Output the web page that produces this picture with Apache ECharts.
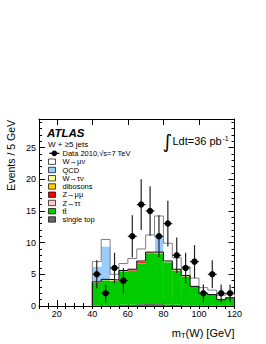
<!DOCTYPE html>
<html><head><meta charset="utf-8">
<script src="https://cdn.jsdelivr.net/npm/echarts@6/dist/echarts.min.js"></script>
<style>html,body{margin:0;padding:0;background:#fff}#c{width:266px;height:344px}</style>
</head><body><div id="c"></div>
<script>
// ---- data ----
const binLow = [40,45,50,55,60,65,70,75,80,85,90,95,100,105,110,115];
const binWidth = 5;
const dataCounts = [5,2,6,4,11,16,15,11,13,8,6,7,2,5,2,2];
const dataErrors = [2.2,1.4,2.4,2.0,3.3,4.0,3.9,3.3,3.6,2.8,2.4,2.6,1.4,2.2,1.4,1.4];
const singleTop = [0.1,0.1,0.1,0.2,0.2,0.3,0.3,0.3,0.2,0.2,0.1,0.1,0.1,0.05,0.05,0.05];
const ttbar    = [3.55,3.95,3.85,5.2,5.35,6.45,7.95,8.0,6.7,5.4,4.55,2.9,1.85,1.7,0.9,1.2];
const ztautau  = [0.05,0.05,0.05,0.05,0.05,0.05,0.05,0.05,0.05,0.05,0.05,0.05,0,0,0,0];
const zmumu    = [0,0,0,0.05,0.1,0.15,0.1,0.05,0,0,0,0,0,0,0,0];
const dibosons = [0.05,0.05,0.05,0.05,0.05,0.05,0.05,0.05,0.05,0.05,0.05,0,0,0,0,0];
const wtaunu   = [0.05,0.05,0.05,0.05,0.05,0.1,0.05,0.05,0.1,0.1,0.05,0.05,0.05,0.05,0.05,0.05];
const qcd      = [2.4,5.2,0,0,0,0,0,2.4,0,0,0,0,0,0,0,0];
const wmunu    = [0.8,1.1,0.9,1.1,1.7,1.9,2.7,3.3,2.8,1.8,1.4,1.3,0.9,0.7,0.7,0.6];
const xTickLabels = [20,40,60,80,100,120];
const yTickLabels = [0,5,10,15,20,25];

const FONT = '"Liberation Sans", Arial, Helvetica, sans-serif';
const components = [
  {name:'single top', values:singleTop, color:'#666666'},
  {name:'tt\u0304', values:ttbar, color:'#00cc00'},
  {name:'Z→ττ', values:ztautau, color:'#ffcccc'},
  {name:'Z→μμ', values:zmumu, color:'#ff0000'},
  {name:'dibosons', values:dibosons, color:'#ffcc00'},
  {name:'W→τν', values:wtaunu, color:'#ffff99'},
  {name:'QCD', values:qcd, color:'#99ccff'},
  {name:'W→μν', values:wmunu, color:'#ffffff'}
];

let base = binLow.map(() => 0);
let colouredTop = null;
const series = [];
components.forEach((c, ci) => {
  const data = binLow.map((x, i) => [x, x + binWidth, base[i], base[i] + c.values[i]]);
  base = base.map((b, i) => b + c.values[i]);
  if (c.name === 'W→τν') colouredTop = base.slice();
  series.push({
    type:'custom', name:c.name, xAxisIndex:0, yAxisIndex:0, z:2+ci, silent:true,
    encode:{x:[0,1], y:[2,3]}, data,
    renderItem:(params, api) => {
      if (api.value(3) - api.value(2) <= 0) return null;
      const p0 = api.coord([api.value(0), api.value(3)]);
      const p1 = api.coord([api.value(1), api.value(2)]);
      return {type:'rect', shape:{x:p0[0], y:p0[1], width:p1[0]-p0[0]+0.4, height:p1[1]-p0[1]},
              style:{fill:c.color}};
    }
  });
});
const totals = base;

function stepData(vals){
  const d = [[binLow[0], 0]];
  binLow.forEach((x, i) => d.push([x, vals[i]]));
  d.push([binLow[binLow.length-1] + binWidth, vals[vals.length-1]]);
  d.push([binLow[binLow.length-1] + binWidth, 0]);
  return d;
}
series.push({type:'line', step:'end', data:stepData(totals), symbol:'none', silent:true, z:20,
  lineStyle:{color:'#808080', width:1}, xAxisIndex:0, yAxisIndex:0});
series.push({type:'line', step:'end', data:stepData(colouredTop), symbol:'none', silent:true, z:21,
  lineStyle:{color:'#000', width:1}, xAxisIndex:0, yAxisIndex:0});

series.push({
  type:'custom', name:'Data', xAxisIndex:0, yAxisIndex:0, z:30, silent:true,
  encode:{x:[0,1], y:[2]},
  data: binLow.map((x, i) => [x, x + binWidth, dataCounts[i], dataErrors[i]]),
  renderItem:(params, api) => {
    const x0 = api.value(0), x1 = api.value(1), v = api.value(2), e = api.value(3);
    const xc = (x0 + x1) / 2;
    const t = api.coord([xc, v + e]), b = api.coord([xc, Math.max(0, v - e)]);
    const l = api.coord([x0, v]), r = api.coord([x1, v]), c = api.coord([xc, v]);
    return {type:'group', children:[
      {type:'line', shape:{x1:t[0], y1:t[1], x2:b[0], y2:b[1]}, style:{stroke:'#222', lineWidth:1.2}},
      {type:'line', shape:{x1:l[0], y1:l[1], x2:r[0], y2:r[1]}, style:{stroke:'#222', lineWidth:1.2}},
      {type:'circle', shape:{cx:c[0], cy:c[1], r:3.2}, style:{fill:'#000'}}
    ]};
  }
});

const axisLineStyle = {show:true, onZero:false, lineStyle:{color:'#000', width:1}};
function xAx(pos, major, labels){
  const a = {type:'value', min:10, max:120, position:pos, splitLine:{show:false},
    axisLine: major ? axisLineStyle : {show:false}};
  if (major) {
    a.axisTick = {show:true, inside:true, length:6, customValues:xTickLabels, lineStyle:{color:'#000'}};
    a.axisLabel = labels ? {show:true, customValues:xTickLabels, margin:3, fontSize:9, color:'#000', fontFamily:FONT} : {show:false};
  } else {
    a.interval = 5;
    a.axisTick = {show:true, inside:true, length:3, lineStyle:{color:'#000'}};
    a.axisLabel = {show:false};
  }
  return a;
}
function yAx(pos, major, labels){
  const a = {type:'value', min:0, max:29.5, position:pos, splitLine:{show:false},
    axisLine: major ? axisLineStyle : {show:false}};
  if (major) {
    a.axisTick = {show:true, inside:true, length:6, customValues:yTickLabels, lineStyle:{color:'#000'}};
    a.axisLabel = labels ? {show:true, customValues:yTickLabels, margin:3, fontSize:9, color:'#000', fontFamily:FONT} : {show:false};
  } else {
    a.interval = 1;
    a.axisTick = {show:true, inside:true, length:3, lineStyle:{color:'#000'}};
    a.axisLabel = {show:false};
  }
  return a;
}

const legendRows = ['W→μν','QCD','W→τν','dibosons','Z→μμ','Z→ττ','tt\u0304','single top'];
const legendColors = {};
components.forEach(c => legendColors[c.name] = c.color);
const graphic = [];
const gtext = (x, y, text, size, extra) => Object.assign({type:'text', x, y, silent:true, z:50,
  style:Object.assign({text, fontSize:size, fontFamily:FONT, fill:'#000', align:'left', verticalAlign:'middle'}, extra||{})});
graphic.push(gtext(47, 132.5, 'ATLAS', 11.5, {fontWeight:'bold', fontStyle:'italic'}));
graphic.push(gtext(48, 144.5, 'W + ≥5 jets', 8));
graphic.push({type:'line', silent:true, z:50, shape:{x1:49.3, y1:153.3, x2:59.3, y2:153.3}, style:{stroke:'#000', lineWidth:1.2}});
graphic.push({type:'circle', silent:true, z:51, shape:{cx:54.3, cy:153.3, r:2.8}, style:{fill:'#000'}});
graphic.push(gtext(62.5, 153.5, 'Data 2010,√s=7 TeV', 7.5));
legendRows.forEach((name, i) => {
  const y = 161.7 + i * 8.25;
  graphic.push({type:'rect', silent:true, z:50, shape:{x:48.5, y:y-2.7, width:7, height:5.4},
    style:{fill:legendColors[name], stroke:'#000', lineWidth:0.7}});
  graphic.push(gtext(62.5, y + 0.2, name, 7.5));
});
graphic.push(gtext(162.5, 140.5, '∫', 19, {fontFamily:'"DejaVu Sans", sans-serif'}));
graphic.push(gtext(172.5, 141, 'Ldt=36 pb', 11));
graphic.push(gtext(222.5, 138, '-1', 7));
graphic.push(Object.assign(gtext(10.5, 120, 'Events / 5 GeV', 10.5, {align:'right'}), {rotation:Math.PI/2}));
graphic.push({type:'text', x:234.5, y:333, silent:true, z:50,
  style:{text:'{a|m}{b|T}{a|(W) [GeV]}', align:'right', verticalAlign:'middle', fill:'#000',
    rich:{a:{fontSize:11, fontFamily:FONT, fill:'#000'}, b:{fontSize:7.5, fontFamily:FONT, fill:'#000', padding:[5,0,0,0]}}}});

const chart = echarts.init(document.getElementById('c'), null, {renderer:'svg'});
chart.setOption({
  animation:false,
  backgroundColor:'#fff',
  grid:{left:39, right:31.5, top:119, bottom:38, containLabel:false},
  xAxis:[xAx('bottom', true, true), xAx('bottom', false), xAx('top', true, false), xAx('top', false)],
  yAxis:[yAx('left', true, true), yAx('left', false), yAx('right', true, false), yAx('right', false)],
  series,
  graphic
});
</script></body></html>
